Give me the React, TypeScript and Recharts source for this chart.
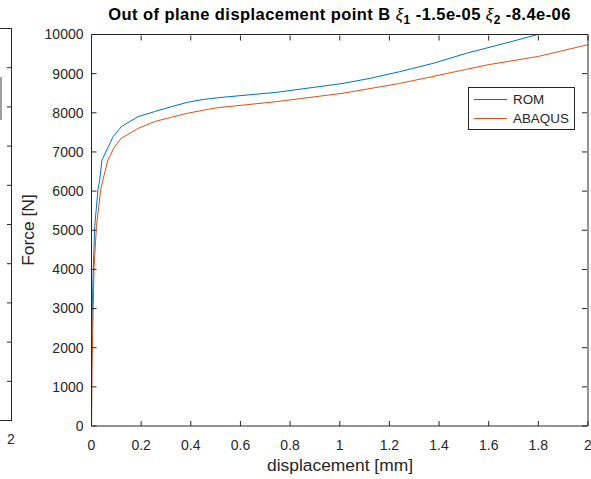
import React from 'react';
import { LineChart, Line, XAxis, YAxis } from 'recharts';

const romX = [0, 0.001, 0.003, 0.007, 0.013, 0.026, 0.033, 0.042, 0.087, 0.12, 0.187, 0.254, 0.321, 0.388, 0.45, 0.509, 0.745, 1.013, 1.13, 1.241, 1.38, 1.51, 1.65, 1.798];
const romF = [0, 1500, 3000, 4000, 5100, 6030, 6280, 6790, 7390, 7645, 7900, 8030, 8155, 8270, 8340, 8385, 8523, 8750, 8890, 9050, 9270, 9520, 9750, 10000];
const abaqusX = [0, 0.002, 0.005, 0.01, 0.02, 0.037, 0.046, 0.066, 0.093, 0.12, 0.187, 0.254, 0.321, 0.388, 0.477, 0.509, 0.745, 1.013, 1.241, 1.4, 1.51, 1.6, 1.8, 2.0];
const abaqusF = [0, 1500, 2400, 4000, 5100, 6030, 6283, 6794, 7135, 7350, 7600, 7775, 7885, 7990, 8097, 8130, 8285, 8500, 8750, 8960, 9110, 9230, 9440, 9740];

const xTicks = [0, 0.2, 0.4, 0.6, 0.8, 1, 1.2, 1.4, 1.6, 1.8, 2];
const yTicks = [0, 1000, 2000, 3000, 4000, 5000, 6000, 7000, 8000, 9000, 10000];
const seriesNames = ['ROM', 'ABAQUS'];
const seriesColors = ['#0072BD', '#D95319'];

const romData = romX.map((x, i) => ({ x, f: romF[i] }));
const abaqusData = abaqusX.map((x, i) => ({ x, f: abaqusF[i] }));

const FONT = '"Liberation Sans", Arial, Helvetica, sans-serif';
const INK = '#262626';

const LeftTick = (props: any) => {
  const { x, y, payload } = props;
  return (
    <g>
      <line x1={x + 8} x2={x + 13} y1={y} y2={y} stroke={INK} strokeWidth={1} />
      <text x={x} y={y} dy="0.35em" textAnchor="end" fill={INK} fontSize={14} fontFamily={FONT}>{payload.value}</text>
    </g>
  );
};

const BottomTick = (props: any) => {
  const { x, y, payload } = props;
  return (
    <g>
      <line x1={x} x2={x} y1={y - 13} y2={y - 18} stroke={INK} strokeWidth={1} />
      <text x={x} y={y} dy="0.75em" textAnchor="middle" fill={INK} fontSize={14} fontFamily={FONT}>{payload.value}</text>
    </g>
  );
};

const RightTick = (props: any) => {
  const { x, y } = props;
  return <line x1={x - 1} x2={x - 6} y1={y} y2={y} stroke={INK} strokeWidth={1} />;
};

const TopTick = (props: any) => {
  const { x, y } = props;
  return <line x1={x} x2={x} y1={y + 1} y2={y + 6} stroke={INK} strokeWidth={1} />;
};

export default function App() {
  const leftSubTicks = [1, 2, 3, 4, 5, 6, 7, 8, 9];
  return (
    <div style={{ position: 'absolute', left: 0, top: 0, width: 591, height: 479, background: '#fff' }}>
      <LineChart width={591} height={479} margin={{ top: 33.5, right: 2, bottom: 23, left: 31.5 }}>
        <XAxis xAxisId="b" dataKey="x" type="number" domain={[0, 2]} ticks={xTicks} allowDataOverflow
          orientation="bottom" height={30} tickSize={0} tickMargin={13} tick={<BottomTick />} tickLine={false}
          axisLine={{ stroke: INK }} interval={0} />
        <XAxis xAxisId="t" dataKey="x" type="number" domain={[0, 2]} ticks={xTicks} allowDataOverflow
          orientation="top" height={1} tickSize={0} tickMargin={0} tick={<TopTick />} tickLine={false}
          axisLine={{ stroke: INK }} interval={0} />
        <YAxis yAxisId="l" type="number" domain={[0, 10000]} ticks={yTicks} allowDataOverflow
          orientation="left" width={60} tickSize={0} tickMargin={8} tick={<LeftTick />} tickLine={false}
          axisLine={{ stroke: INK }} interval={0} />
        <YAxis yAxisId="r" type="number" domain={[0, 10000]} ticks={yTicks} allowDataOverflow
          orientation="right" width={1} tickSize={0} tickMargin={0} tick={<RightTick />} tickLine={false}
          axisLine={{ stroke: INK }} interval={0} />
        <Line xAxisId="t" yAxisId="r" data={abaqusData} dataKey="f" stroke="none" strokeWidth={0}
          dot={false} isAnimationActive={false} type="linear" legendType="none" />
        <Line xAxisId="b" yAxisId="l" data={romData} dataKey="f" name={seriesNames[0]} stroke={seriesColors[0]}
          strokeWidth={1} dot={false} isAnimationActive={false} type="linear" />
        <Line xAxisId="b" yAxisId="l" data={abaqusData} dataKey="f" name={seriesNames[1]} stroke={seriesColors[1]}
          strokeWidth={1} dot={false} isAnimationActive={false} type="linear" />
      </LineChart>
      <svg width={591} height={479} style={{ position: 'absolute', left: 0, top: 0, pointerEvents: 'none' }}>
        <text x={339.5} y={20} textAnchor="middle" fill="#000" fontSize={16.5} letterSpacing={0.45} fontWeight="bold" fontFamily={FONT}>
          Out of plane displacement point B <tspan fontStyle="italic" fontWeight="normal">ξ</tspan>
          <tspan dy={4} fontSize={12}>1</tspan>
          <tspan dy={-4}> -1.5e-05 </tspan>
          <tspan fontStyle="italic" fontWeight="normal">ξ</tspan>
          <tspan dy={4} fontSize={12}>2</tspan>
          <tspan dy={-4}> -8.4e-06</tspan>
        </text>
        <text x={340} y={471} textAnchor="middle" fill={INK} fontSize={17.4} fontFamily={FONT}>displacement [mm]</text>
        <text x={0} y={0} transform="translate(34,230) rotate(-90)" textAnchor="middle" fill={INK} fontSize={17.4} fontFamily={FONT}>Force [N]</text>
        <g transform="translate(468,87)">
          <rect x={0.5} y={0.5} width={106} height={42} fill="#fff" stroke={INK} strokeWidth={1} />
          {seriesNames.map((n, i) => (
            <g key={n}>
              <line x1={6} x2={39} y1={12.5 + i * 19} y2={12.5 + i * 19} stroke={seriesColors[i]} strokeWidth={1} />
              <text x={45} y={12.5 + i * 19} dy="0.35em" fill={INK} fontSize={13.4} fontFamily={FONT}>{n}</text>
            </g>
          ))}
        </g>
        <line x1={0} x2={11.5} y1={28.5} y2={28.5} stroke={INK} strokeWidth={1} />
        <line x1={11.5} x2={11.5} y1={28} y2={421} stroke={INK} strokeWidth={1} />
        <line x1={0} x2={11.5} y1={420.5} y2={420.5} stroke={INK} strokeWidth={1} />
        {leftSubTicks.map((k) => (
          <line key={k} x1={7} x2={11.5} y1={28.5 + k * 39.2} y2={28.5 + k * 39.2} stroke={INK} strokeWidth={1} />
        ))}
        <rect x={0} y={77} width={2} height={43} fill="#a0a0a0" />
        <text x={11} y={433} dy="0.75em" textAnchor="middle" fill={INK} fontSize={14} fontFamily={FONT}>2</text>
      </svg>
    </div>
  );
}
